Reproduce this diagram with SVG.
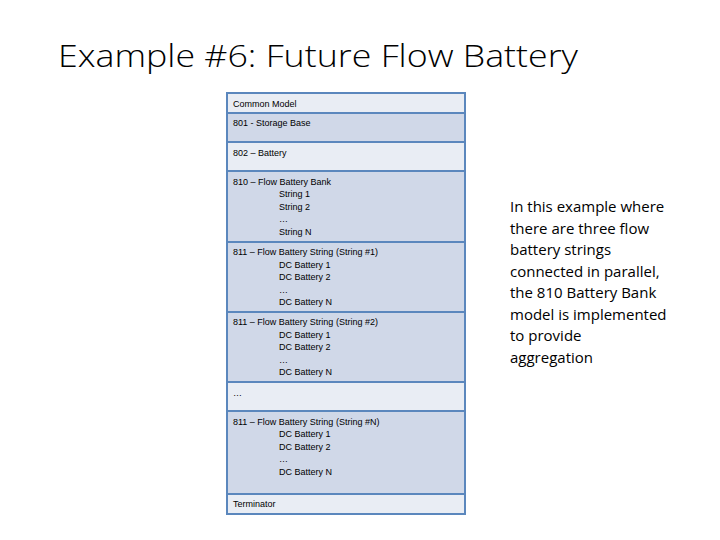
<svg xmlns="http://www.w3.org/2000/svg" width="720" height="540" viewBox="0 0 720 540">
<style>
.t{font-family:"Liberation Sans",Arial,sans-serif;font-size:9px;fill:#000}
.l{fill:#e9edf4;stroke:#5b87bd;stroke-width:2}
.d{fill:#d0d8e8;stroke:#5b87bd;stroke-width:2}
.h{font-family:"Open Sans","Liberation Sans",sans-serif;font-size:32px;font-weight:300;fill:#000}
.n{font-family:"Open Sans","Liberation Sans",sans-serif;font-size:15px;fill:#000}
</style>
<rect width="720" height="540" fill="#fff"/>
<text class="h" x="58" y="67" textLength="520" lengthAdjust="spacingAndGlyphs">Example #6: Future Flow Battery</text>
<g id="r0"><rect class="l" x="227" y="93" width="238" height="20"/><text class="t" x="233" y="107">Common Model</text></g>
<g id="r1"><rect class="d" x="227" y="113" width="238" height="29"/><text class="t" x="233" y="126">801 - Storage Base</text></g>
<g id="r2"><rect class="l" x="227" y="142" width="238" height="29"/><text class="t" x="233" y="156">802 – Battery</text></g>
<g id="r3"><rect class="d" x="227" y="171" width="238" height="71"/><text class="t" x="233" y="185">810 – Flow Battery Bank</text><text class="t" x="279" y="197">String 1</text><text class="t" x="279" y="210">String 2</text><text class="t" x="279" y="222">…</text><text class="t" x="279" y="235">String N</text></g>
<g id="r4"><rect class="d" x="227" y="242" width="238" height="70"/><text class="t" x="233" y="255">811 – Flow Battery String (String #1)</text><text class="t" x="279" y="268">DC Battery 1</text><text class="t" x="279" y="280">DC Battery 2</text><text class="t" x="279" y="293">…</text><text class="t" x="279" y="305">DC Battery N</text></g>
<g id="r5"><rect class="d" x="227" y="312" width="238" height="70"/><text class="t" x="233" y="325">811 – Flow Battery String (String #2)</text><text class="t" x="279" y="338">DC Battery 1</text><text class="t" x="279" y="350">DC Battery 2</text><text class="t" x="279" y="363">…</text><text class="t" x="279" y="375">DC Battery N</text></g>
<g id="r6"><rect class="l" x="227" y="382" width="238" height="29"/><text class="t" x="233" y="396">…</text></g>
<g id="r7"><rect class="d" x="227" y="411" width="238" height="83"/><text class="t" x="233" y="425">811 – Flow Battery String (String #N)</text><text class="t" x="279" y="437">DC Battery 1</text><text class="t" x="279" y="450">DC Battery 2</text><text class="t" x="279" y="462">…</text><text class="t" x="279" y="475">DC Battery N</text></g>
<g id="r8"><rect class="l" x="227" y="494" width="238" height="20"/><text class="t" x="233" y="507">Terminator</text></g>
<g id="note"><text class="n" x="510" y="212">In this example where</text><text class="n" x="510" y="234">there are three flow</text><text class="n" x="510" y="255">battery strings</text><text class="n" x="510" y="277">connected in parallel,</text><text class="n" x="510" y="298">the 810 Battery Bank</text><text class="n" x="510" y="320">model is implemented</text><text class="n" x="510" y="341">to provide</text><text class="n" x="510" y="363">aggregation</text></g>
<g id="connectors"/>
</svg>
